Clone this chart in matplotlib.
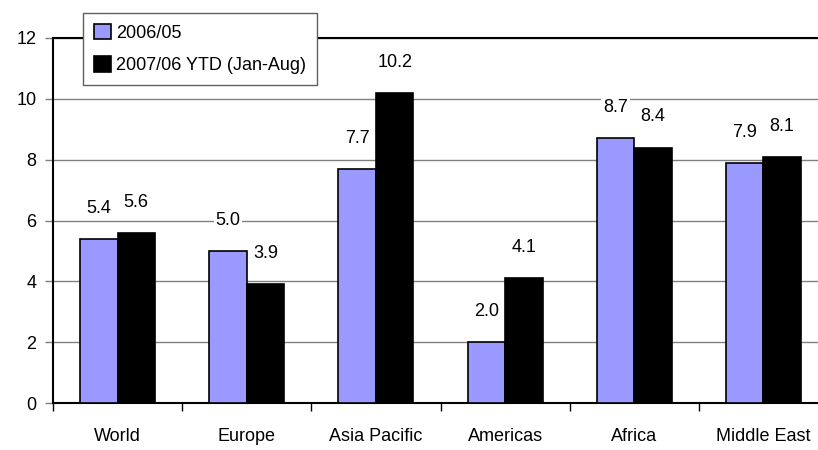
import matplotlib
matplotlib.use("Agg")
import matplotlib.pyplot as plt
import numpy as np

categories = ["World", "Europe", "Asia Pacific", "Americas", "Africa", "Middle East"]
series_names = ["2006/05", "2007/06 YTD (Jan-Aug)"]
values_2006 = [5.4, 5.0, 7.7, 2.0, 8.7, 7.9]
values_2007 = [5.6, 3.9, 10.2, 4.1, 8.4, 8.1]
yticks = [0, 2, 4, 6, 8, 10, 12]

plt.rcParams['font.family'] = ['Liberation Sans', 'DejaVu Sans']

W, H = 818, 450
fig = plt.figure(figsize=(W / 100, H / 100), dpi=100)
ax = fig.add_axes([53 / W, 1 - 403 / H, 775 / W, (403 - 38) / H])

x = np.arange(len(categories))
bw = 0.29
b1 = ax.bar(x - bw / 2, values_2006, bw, color="#9999FF", edgecolor="black", linewidth=1.2,
            label=series_names[0], zorder=3)
b2 = ax.bar(x + bw / 2, values_2007, bw, color="black", edgecolor="black", linewidth=1.2,
            label=series_names[1], zorder=3)

for bars, vals in ((b1, values_2006), (b2, values_2007)):
    for rect, v in zip(bars, vals):
        ax.annotate(f"{v:.1f}", (rect.get_x() + rect.get_width() / 2, v),
                    xytext=(0, 22), textcoords="offset points", ha="center", va="center",
                    fontsize=13, zorder=4,
                    bbox=dict(boxstyle="square,pad=0.1", fc="white", ec="none"))

ax.set_xlim(-0.5, len(categories) - 0.5)
ax.set_ylim(0, 12)
ax.set_yticks(yticks)
ax.set_yticklabels([str(t) for t in yticks], fontsize=13)
ax.yaxis.grid(True, color="#808080", linewidth=1.0, zorder=0)
ax.set_axisbelow(True)

ax.set_xticks(x)
ax.set_xticklabels(categories, fontsize=13)
ax.set_xticks(np.arange(-0.5, len(categories) + 0.5, 1), minor=True)
ax.tick_params(axis="x", which="major", length=0, pad=18)
ax.tick_params(axis="x", which="minor", length=6, width=1, direction="out", color="black")
ax.tick_params(axis="y", length=6, width=1, direction="out", color="#808080", pad=6)

for s in ("left", "bottom", "top"):
    ax.spines[s].set_color("black")
    ax.spines[s].set_linewidth(1.5)
ax.spines["right"].set_visible(False)

leg = fig.legend(loc="upper left", bbox_to_anchor=(83 / W, 1 - 13 / H), fontsize=13,
                 frameon=True, fancybox=False, edgecolor="#606060", framealpha=1,
                 handlelength=0.95, handleheight=0.95, handletextpad=0.3, borderpad=0.6,
                 labelspacing=0.8, borderaxespad=0)
leg.get_frame().set_linewidth(1.0)

fig.savefig("out.png", dpi=100)
